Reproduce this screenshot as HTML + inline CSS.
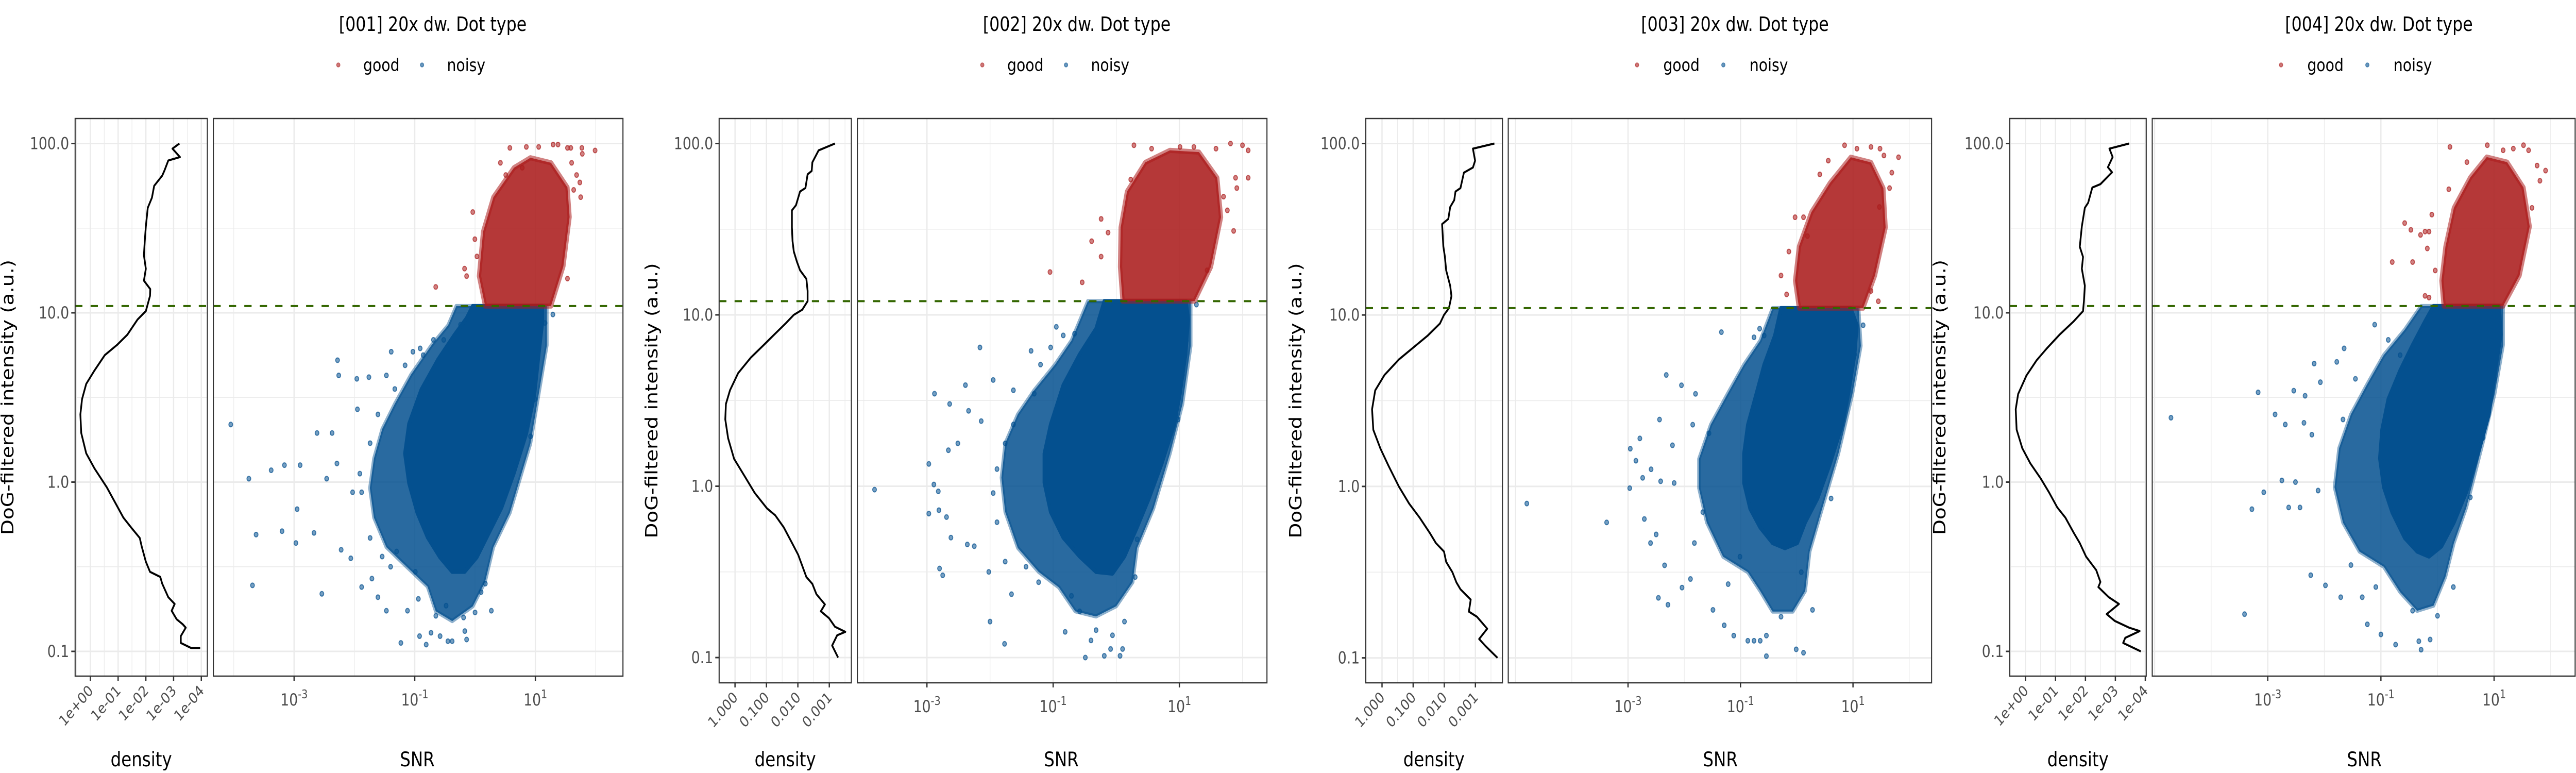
<!DOCTYPE html>
<html><head><meta charset="utf-8">
<style>
html,body{margin:0;padding:0;background:#fff;overflow:hidden;width:100%;height:100%;}
svg{display:block;width:100vw;height:100vh;font-family:"DejaVu Sans","Liberation Sans",sans-serif;}
</style></head>
<body>
<svg id="chart" viewBox="0 0 6000 1500" preserveAspectRatio="none" xmlns="http://www.w3.org/2000/svg"></svg>
<script>
// ---- Data (log10 units: [log10 SNR or density, log10 intensity]) ----
const titles = ['[001] 20x dw. Dot type','[002] 20x dw. Dot type','[003] 20x dw. Dot type','[004] 20x dw. Dot type'];
const legendLabels = ['good','noisy'];
const yTickValues = [2,1,0,-1];
const yTickLabels = ['100.0','10.0','1.0','0.1'];
const snrTickValues = [-3,-1,1];
const snrTickLabels = ['-3','-1','1'];
const densTickValuesA = [0,-1,-2,-3,-4];
const densTickLabelsA = ['1e+00','1e-01','1e-02','1e-03','1e-04'];
const densTickValuesB = [0,-1,-2,-3];
const densTickLabelsB = ['1.000','0.100','0.010','0.001'];
const thresholds = [1.04,1.08,1.04,1.04];

const p1Density=[[-3.21,2.00],[-2.96,1.97],[-3.23,1.92],[-2.81,1.90],[-2.67,1.84],[-2.59,1.81],[-2.30,1.75],[-2.22,1.68],[-2.07,1.62],[-2.00,1.51],[-1.96,1.42],[-1.93,1.34],[-2.00,1.26],[-1.93,1.19],[-2.16,1.14],[-2.15,1.10],[-2.00,1.01],[-1.70,0.96],[-1.33,0.87],[-0.96,0.81],[-0.52,0.75],[-0.15,0.66],[0.15,0.58],[0.30,0.49],[0.36,0.40],[0.33,0.29],[0.15,0.17],[-0.15,0.08],[-0.59,-0.03],[-0.89,-0.12],[-1.19,-0.21],[-1.48,-0.27],[-1.78,-0.33],[-1.85,-0.38],[-2.00,-0.47],[-2.15,-0.53],[-2.52,-0.56],[-2.59,-0.60],[-2.81,-0.68],[-3.04,-0.72],[-2.93,-0.76],[-3.11,-0.81],[-3.33,-0.84],[-3.44,-0.86],[-3.26,-0.91],[-3.26,-0.95],[-3.63,-0.98],[-3.96,-0.98]];
const p1BlueCore=[[-0.04,1.04],[1.12,1.04],[1.12,0.955],[1.055,0.751],[0.986,0.518],[0.85,0.285],[0.645,0.052],[0.44,-0.151],[0.235,-0.297],[0.031,-0.443],[-0.174,-0.53],[-0.379,-0.53],[-0.584,-0.443],[-0.788,-0.326],[-0.959,-0.181],[-1.096,-0.006],[-1.164,0.169],[-1.096,0.344],[-0.891,0.547],[-0.618,0.722],[-0.345,0.868],[-0.14,0.969]];
const p1BlueHalo=[[-0.311,1.04],[1.191,1.04],[1.191,0.809],[1.055,0.518],[0.918,0.227],[0.577,-0.181],[0.304,-0.384],[0.167,-0.588],[-0.038,-0.734],[-0.379,-0.821],[-0.652,-0.763],[-0.788,-0.617],[-1.13,-0.501],[-1.471,-0.384],[-1.676,-0.21],[-1.744,-0.035],[-1.676,0.14],[-1.539,0.314],[-1.334,0.46],[-1.061,0.635],[-0.72,0.809],[-0.447,0.926]];
const p1BlueOut=[[-4.05,0.34],[-3.75,0.02],[-3.69,-0.61],[-3.63,-0.31],[-3.38,0.07],[-3.20,-0.29],[-3.16,0.10],[-2.97,-0.36],[-2.95,-0.16],[-2.90,0.10],[-2.67,-0.30],[-2.62,0.29],[-2.54,-0.66],[-2.46,0.02],[-2.37,0.29],[-2.29,0.11],[-2.28,0.72],[-2.26,0.63],[-2.22,-0.40],[-2.06,-0.45],[-2.03,-0.06],[-1.96,0.61],[-1.95,0.43],[-1.88,-0.62],[-1.76,0.62],[-1.71,-0.57],[-1.61,-0.68],[-1.47,-0.76],[-1.47,0.63],[-1.39,0.77],[-1.30,-0.41],[-1.23,-0.95],[-1.12,-0.76],[-1.03,0.77],[-0.94,-0.69],[-0.92,-0.91],[-0.91,0.79],[-0.81,-0.96],[-0.73,-0.89],[-0.69,0.84],[-0.58,-0.91],[-0.45,-0.94],[-0.38,-0.94],[-0.19,-0.80],[-0.14,-0.93],[0.00,-0.77],[0.27,-0.76],[0.10,-0.65],[0.17,-0.60],[-0.17,-0.88],[-0.65,-0.79],[-0.48,-0.73],[-0.99,-0.53],[-1.40,-0.50],[-1.54,-0.44],[-1.74,-0.33],[-1.88,-0.06],[-1.91,0.05],[-1.74,0.23],[-1.61,0.40],[-1.33,0.55],[-1.16,0.69],[-0.86,0.75],[-0.52,0.84],[-0.24,0.93],[0.92,0.27],[0.99,0.49],[1.05,0.77],[1.16,0.94],[1.29,0.99]];
const p1RedCore=[[0.167,1.04],[1.259,1.04],[1.464,1.275],[1.567,1.566],[1.532,1.741],[1.259,1.886],[0.918,1.916],[0.645,1.857],[0.304,1.683],[0.133,1.479],[0.065,1.217]];
const p1RedOut=[[-0.652,1.153],[-0.174,1.261],[-0.14,1.217],[-0.038,1.595],[-0.003,1.435],[0.031,1.333],[0.42,1.886],[0.577,1.974],[0.85,1.98],[1.055,1.98],[1.294,1.994],[1.375,1.994],[1.532,1.974],[1.587,1.974],[1.771,1.974],[1.99,1.959],[1.778,1.939],[1.601,1.886],[1.683,1.814],[1.737,1.77],[1.751,1.683],[1.532,1.202],[0.509,1.814],[0.782,1.857],[1.635,1.726]];

const p2Density=[[-3.18,2.00],[-2.66,1.96],[-2.46,1.89],[-2.44,1.84],[-2.31,1.82],[-2.24,1.74],[-2.07,1.72],[-1.94,1.64],[-1.81,1.61],[-1.81,1.51],[-1.83,1.43],[-1.87,1.37],[-1.97,1.31],[-2.07,1.26],[-2.27,1.21],[-2.31,1.14],[-2.31,1.08],[-2.14,1.03],[-1.87,1.00],[-1.61,0.95],[-1.22,0.88],[-0.89,0.82],[-0.50,0.75],[-0.10,0.66],[0.16,0.56],[0.29,0.48],[0.31,0.39],[0.22,0.28],[0.03,0.16],[-0.30,0.06],[-0.63,-0.04],[-1.02,-0.13],[-1.28,-0.17],[-1.55,-0.24],[-1.81,-0.33],[-2.01,-0.40],[-2.27,-0.53],[-2.46,-0.57],[-2.59,-0.63],[-2.86,-0.69],[-2.73,-0.73],[-2.99,-0.77],[-3.18,-0.82],[-3.51,-0.85],[-3.25,-0.87],[-3.09,-0.93],[-3.28,-1.00]];
const p2BlueCore=[[-0.19,1.08],[1.11,1.08],[1.14,0.97],[1.10,0.77],[1.01,0.54],[0.92,0.36],[0.72,0.13],[0.52,-0.07],[0.33,-0.24],[0.13,-0.41],[-0.06,-0.51],[-0.32,-0.50],[-0.58,-0.41],[-0.84,-0.30],[-1.04,-0.15],[-1.14,0.02],[-1.14,0.19],[-1.04,0.36],[-0.84,0.59],[-0.58,0.77],[-0.32,0.92]];
const p2BlueHalo=[[-0.45,1.08],[1.18,1.08],[1.18,0.82],[1.05,0.48],[0.85,0.19],[0.59,-0.13],[0.33,-0.36],[0.26,-0.56],[0.00,-0.70],[-0.32,-0.76],[-0.65,-0.73],[-0.91,-0.59],[-1.23,-0.50],[-1.56,-0.36],[-1.76,-0.15],[-1.82,0.05],[-1.76,0.25],[-1.56,0.42],[-1.30,0.56],[-0.97,0.71],[-0.71,0.85]];
const p2BlueOut=[[-3.83,-0.02],[-2.97,0.13],[-2.97,-0.16],[-2.89,0.01],[-2.88,0.54],[-2.82,-0.03],[-2.81,-0.14],[-2.80,-0.48],[-2.75,-0.52],[-2.69,-0.18],[-2.66,0.21],[-2.64,0.48],[-2.62,-0.30],[-2.51,0.25],[-2.39,0.59],[-2.36,-0.34],[-2.34,0.44],[-2.25,-0.35],[-2.16,0.81],[-2.14,0.38],[-2.02,-0.50],[-2.00,-0.79],[-1.95,0.62],[-1.77,-0.92],[-1.66,-0.63],[-1.63,0.56],[-1.35,0.79],[-1.20,0.71],[-1.04,0.81],[-0.95,0.93],[-0.84,0.88],[-0.81,-0.85],[-0.66,0.89],[-0.49,-1.00],[-0.40,-0.90],[-0.19,-0.99],[-0.09,-0.95],[0.06,-0.99],[0.10,-0.95],[0.13,-0.79],[-0.06,-0.87],[-0.32,-0.84],[-0.58,-0.73],[-0.71,-0.64],[-1.23,-0.56],[-1.43,-0.47],[-1.76,-0.44],[-1.89,-0.21],[-1.95,-0.04],[-1.89,0.10],[-1.76,0.25],[-1.63,0.36],[-1.30,0.54],[1.05,0.65],[0.98,0.39],[0.92,0.45],[1.11,0.85],[1.12,0.95],[1.27,1.06],[0.30,-0.53],[0.33,-0.31]];
const p2RedCore=[[0.10,1.08],[1.24,1.08],[1.50,1.28],[1.66,1.57],[1.60,1.80],[1.31,1.95],[0.85,1.96],[0.46,1.89],[0.17,1.72],[0.07,1.51],[0.06,1.28]];
const p2RedOut=[[-1.05,1.25],[-0.54,1.19],[-0.39,1.43],[-0.24,1.56],[-0.24,1.34],[-0.13,1.48],[0.23,1.79],[0.28,1.99],[0.56,1.97],[1.01,1.98],[1.23,1.98],[1.58,1.97],[1.81,2.00],[2.00,1.99],[2.09,1.96],[2.09,1.80],[1.91,1.74],[1.76,1.61],[1.70,1.69],[1.89,1.80],[1.86,1.49],[1.44,1.26]];

const p3Density=[[-3.61,2.00],[-2.92,1.97],[-2.99,1.90],[-2.92,1.86],[-2.63,1.83],[-2.52,1.74],[-2.36,1.72],[-2.32,1.67],[-2.19,1.63],[-2.13,1.56],[-1.93,1.53],[-1.97,1.40],[-2.02,1.34],[-2.06,1.26],[-2.19,1.17],[-2.23,1.11],[-2.15,1.04],[-1.99,1.00],[-1.86,0.95],[-1.47,0.88],[-1.07,0.82],[-0.54,0.74],[-0.08,0.65],[0.22,0.56],[0.32,0.45],[0.28,0.33],[0.05,0.22],[-0.21,0.12],[-0.54,0.00],[-0.87,-0.10],[-1.20,-0.18],[-1.53,-0.27],[-1.73,-0.33],[-1.99,-0.38],[-2.06,-0.44],[-2.26,-0.50],[-2.39,-0.56],[-2.52,-0.60],[-2.85,-0.66],[-2.79,-0.73],[-3.05,-0.76],[-3.38,-0.83],[-3.12,-0.89],[-3.32,-0.93],[-3.71,-1.00]];
const p3BlueCore=[[-0.28,1.04],[0.96,1.04],[1.07,0.94],[1.03,0.77],[0.92,0.54],[0.81,0.36],[0.59,0.13],[0.37,-0.07],[0.15,-0.21],[0.01,-0.33],[-0.21,-0.36],[-0.43,-0.33],[-0.65,-0.24],[-0.83,-0.13],[-0.94,0.02],[-0.94,0.19],[-0.87,0.36],[-0.72,0.54],[-0.58,0.71],[-0.39,0.88]];
const p3BlueHalo=[[-0.43,1.04],[1.10,1.04],[1.14,0.82],[0.99,0.54],[0.74,0.19],[0.45,-0.13],[0.23,-0.38],[0.15,-0.61],[-0.07,-0.73],[-0.43,-0.73],[-0.65,-0.61],[-0.87,-0.50],[-1.31,-0.41],[-1.60,-0.21],[-1.74,-0.01],[-1.74,0.16],[-1.53,0.36],[-1.23,0.54],[-0.94,0.71],[-0.65,0.85]];
const p3BlueOut=[[-4.80,-0.10],[-3.38,-0.21],[-2.96,0.22],[-2.97,-0.01],[-2.86,0.15],[-2.79,0.28],[-2.74,0.05],[-2.71,-0.19],[-2.60,-0.33],[-2.59,0.10],[-2.50,-0.28],[-2.46,-0.65],[-2.44,0.39],[-2.42,0.03],[-2.35,-0.46],[-2.32,0.65],[-2.29,-0.69],[-2.21,0.24],[-2.18,0.02],[-2.05,0.59],[-2.04,-0.59],[-1.89,-0.54],[-1.85,0.36],[-1.80,0.54],[-1.49,-0.72],[-1.34,0.90],[-1.29,-0.81],[-1.22,-0.57],[-1.12,-0.87],[-1.01,-0.41],[-0.87,-0.90],[-0.76,-0.90],[-0.65,-0.90],[-0.54,-0.99],[-0.54,-0.87],[-0.28,-0.76],[-0.01,-0.95],[0.12,-0.97],[0.28,-0.72],[0.08,-0.50],[-0.66,0.92],[-0.76,0.87],[-0.58,0.88],[0.61,-0.07],[0.74,0.45],[1.03,0.77],[1.18,0.94],[-1.56,0.31],[-1.67,-0.15],[-1.82,-0.33]];
const p3RedCore=[[0.04,1.04],[1.18,1.04],[1.39,1.23],[1.58,1.51],[1.54,1.74],[1.32,1.89],[0.96,1.92],[0.59,1.77],[0.26,1.60],[0.04,1.40],[-0.03,1.20]];
const p3RedOut=[[-0.28,1.23],[-0.18,1.12],[-0.14,1.37],[-0.03,1.57],[0.12,1.57],[0.41,1.82],[0.56,1.90],[0.85,1.99],[1.07,1.97],[1.32,1.98],[1.48,1.97],[1.55,1.93],[1.81,1.92],[1.69,1.83],[1.65,1.74],[1.47,1.63],[1.45,1.08],[1.32,1.14],[0.19,1.46]];

const p4Density=[[-3.46,2.00],[-2.80,1.97],[-2.91,1.92],[-2.75,1.86],[-2.89,1.83],[-2.50,1.76],[-2.23,1.74],[-2.09,1.65],[-1.98,1.62],[-1.88,1.51],[-1.81,1.39],[-1.92,1.33],[-1.88,1.26],[-1.98,1.16],[-1.95,1.07],[-1.92,1.01],[-1.61,0.95],[-1.13,0.87],[-0.71,0.79],[-0.37,0.72],[-0.03,0.63],[0.25,0.52],[0.33,0.43],[0.30,0.31],[0.11,0.20],[-0.16,0.11],[-0.51,0.02],[-0.78,-0.06],[-1.06,-0.15],[-1.33,-0.21],[-1.61,-0.30],[-1.81,-0.36],[-2.02,-0.44],[-2.36,-0.52],[-2.50,-0.59],[-2.43,-0.62],[-2.78,-0.68],[-3.12,-0.72],[-2.71,-0.78],[-2.98,-0.82],[-3.46,-0.86],[-3.81,-0.88],[-3.33,-0.92],[-3.26,-0.95],[-3.85,-1.00]];
const p4BlueCore=[[-0.07,1.04],[1.09,1.04],[1.12,0.87],[1.01,0.63],[0.91,0.40],[0.72,0.17],[0.51,-0.06],[0.29,-0.24],[0.07,-0.38],[-0.15,-0.44],[-0.36,-0.41],[-0.58,-0.33],[-0.80,-0.18],[-0.95,-0.03],[-1.02,0.14],[-0.98,0.31],[-0.87,0.49],[-0.66,0.66],[-0.44,0.81],[-0.22,0.95]];
const p4BlueHalo=[[-0.29,1.04],[1.16,1.04],[1.16,0.81],[1.01,0.52],[0.80,0.23],[0.51,-0.15],[0.29,-0.36],[0.14,-0.56],[-0.07,-0.73],[-0.36,-0.76],[-0.66,-0.65],[-0.95,-0.50],[-1.38,-0.41],[-1.67,-0.24],[-1.82,-0.03],[-1.74,0.20],[-1.53,0.40],[-1.24,0.58],[-0.95,0.75],[-0.58,0.90]];
const p4BlueOut=[[-4.71,0.38],[-3.41,-0.78],[-3.28,-0.16],[-3.17,0.53],[-3.07,-0.06],[-2.87,0.40],[-2.75,0.01],[-2.69,0.34],[-2.63,-0.15],[-2.54,0.54],[-2.51,0.00],[-2.43,-0.15],[-2.36,0.35],[-2.34,0.51],[-2.24,-0.55],[-2.22,0.28],[-2.18,0.70],[-2.11,-0.05],[-2.07,0.59],[-1.98,-0.61],[-1.78,0.71],[-1.71,-0.68],[-1.65,0.79],[-1.53,-0.49],[-1.33,-0.68],[-1.24,-0.84],[-1.11,0.93],[-1.00,-0.90],[-0.74,-0.96],[-0.33,-0.94],[-0.29,-0.99],[-0.13,-0.93],[0.00,-0.79],[0.28,-0.62],[-0.87,0.84],[-0.66,0.75],[-1.45,0.61],[-1.67,0.37],[-1.09,-0.62],[-0.44,-0.76],[0.58,-0.09],[0.80,0.26],[1.01,0.61]];
const p4RedCore=[[0.11,1.04],[1.16,1.04],[1.45,1.22],[1.63,1.51],[1.52,1.74],[1.23,1.89],[0.87,1.92],[0.58,1.80],[0.29,1.62],[0.14,1.39],[0.07,1.19]];
const p4RedOut=[[-0.80,1.30],[-0.58,1.53],[-0.47,1.49],[-0.44,1.30],[-0.30,1.46],[-0.22,1.48],[-0.18,1.38],[-0.15,1.48],[-0.10,1.58],[-0.22,1.10],[-0.15,1.09],[0.22,1.98],[0.52,1.89],[0.88,1.99],[1.16,1.96],[1.34,1.97],[1.52,1.99],[1.61,1.96],[1.76,1.87],[1.91,1.84],[1.81,1.78],[1.67,1.62],[0.20,1.73],[-0.04,1.25]];

// ---- Layout (pixels) ----
const layouts = [
 {off:0,   dL:175,dR:483, sL:497,sR:1451, top:230,bot:1312, y100:278.5,yDec:328.5, d0:210.5,dDec:64.6, s3:685,sDec:140.5, titleX:1008, legDot:[788,983], legTxt:[846,1041], densX:329, snrX:972},
 {off:1500,dL:175,dR:483, sL:497,sR:1451, top:230,bot:1325, y100:278.5,yDec:332.5, d0:212,dDec:73.2, s3:659,sDec:147, titleX:1008, legDot:[788,983], legTxt:[846,1041], densX:329, snrX:972},
 {off:3000,dL:181,dR:499.5,sL:513,sR:1499, top:230,bot:1325, y100:278.5,yDec:332.7, d0:219,dDec:72.5, s3:792,sDec:131, titleX:1041, legDot:[813,1014], legTxt:[874,1075], densX:340, snrX:1007},
 {off:4500,dL:181,dR:499, sL:513,sR:1498, top:230,bot:1312, y100:278.5,yDec:328.5, d0:218,dDec:69.7, s3:782,sDec:131.8, titleX:1041, legDot:[813,1014], legTxt:[874,1075], densX:340, snrX:1007}
];
const densityData=[p1Density,p2Density,p3Density,p4Density];
const blueCores=[p1BlueCore,p2BlueCore,p3BlueCore,p4BlueCore];
const blueHalos=[p1BlueHalo,p2BlueHalo,p3BlueHalo,p4BlueHalo];
const blueOuts=[p1BlueOut,p2BlueOut,p3BlueOut,p4BlueOut];
const redCores=[p1RedCore,p2RedCore,p3RedCore,p4RedCore];
const redOuts=[p1RedOut,p2RedOut,p3RedOut,p4RedOut];
const densTicks=[[densTickValuesA,densTickLabelsA],[densTickValuesB,densTickLabelsB],[densTickValuesB,densTickLabelsB],[densTickValuesA,densTickLabelsA]];

const BLUE='#04508f', RED='#ab1c1c', GRID='#ebebeb';
const NS='http://www.w3.org/2000/svg';
const svg=document.getElementById('chart');
function mk(tag,attrs,parent){const e=document.createElementNS(NS,tag);for(const k in attrs)e.setAttribute(k,attrs[k]);(parent||svg).appendChild(e);return e;}

layouts.forEach((L,pi)=>{
  const g=mk('g',{transform:'translate('+L.off+',0)'});
  
  
  const Y=v=>L.y100+(2-v)*L.yDec;
  const XS=v=>L.s3+(v+3)*L.sDec;
  const XD=v=>L.d0-v*L.dDec;

  const t=mk('text',{x:L.titleX,y:60,'text-anchor':'middle','font-size':38,fill:'#000'},g);t.textContent=titles[pi];
  
  
  legendLabels.forEach((lab,i)=>{
    const c=mk('circle',{cx:L.legDot[i],cy:126,r:4,fill:i?BLUE:RED,'fill-opacity':0.6,stroke:i?BLUE:RED,'stroke-opacity':0.6,'stroke-width':1.5},g);
    
    
    const tx=mk('text',{x:L.legTxt[i],y:138,'font-size':34,fill:'#000'},g);tx.textContent=lab;
    
    
  });

  [[L.dL,L.dR,'density-panel'],[L.sL,L.sR,'scatter-panel']].forEach(([a,b,nm])=>{
    const r=mk('rect',{x:a,y:L.top,width:b-a,height:L.bot-L.top,fill:'#fff'},g);
    
    
    for(let v=2.5;v>=-1.5;v-=0.5){const y=Y(v);if(y<L.top||y>L.bot)continue;
      mk('line',{x1:a,x2:b,y1:y,y2:y,stroke:GRID,'stroke-width':Number.isInteger(v)?3:1.5},g);}
  });
  for(let v=-6;v<=3;v+=1){const x=XS(v);if(x<L.sL||x>L.sR)continue;
    mk('line',{x1:x,x2:x,y1:L.top,y2:L.bot,stroke:GRID,'stroke-width':(v%2!==0)?3:1.5},g);}
  for(let v=1;v>=-5;v-=0.5){const x=XD(v);if(x<L.dL||x>L.dR)continue;
    mk('line',{x1:x,x2:x,y1:L.top,y2:L.bot,stroke:GRID,'stroke-width':Number.isInteger(v)?3:1.5},g);}

  const clip='clip'+pi;
  const cp=mk('clipPath',{id:clip},g);mk('rect',{x:L.sL,y:L.top,width:L.sR-L.sL,height:L.bot-L.top},cp);
  const sg=mk('g',{'clip-path':'url(#'+clip+')'},g);
  const poly=(pts)=>pts.map(p=>XS(p[0]).toFixed(1)+','+Y(p[1]).toFixed(1)).join(' ');
  const halo=mk('polygon',{points:poly(blueHalos[pi]),fill:BLUE,'fill-opacity':0.85,stroke:BLUE,'stroke-opacity':0.45,'stroke-width':8,'stroke-linejoin':'round'},sg);
  
  
  blueOuts[pi].forEach(p=>{const c=mk('circle',{cx:XS(p[0]),cy:Y(p[1]),r:4.5,fill:BLUE,'fill-opacity':0.55,stroke:BLUE,'stroke-opacity':0.7,'stroke-width':2},sg);
    
    });
  const core=mk('polygon',{points:poly(blueCores[pi]),fill:BLUE,stroke:BLUE,'stroke-width':8,'stroke-linejoin':'round'},sg);
  
  
  const rc=mk('polygon',{points:poly(redCores[pi]),fill:RED,'fill-opacity':0.88,stroke:RED,'stroke-opacity':0.55,'stroke-width':10,'stroke-linejoin':'round'},sg);
  
  
  redOuts[pi].forEach(p=>{const c=mk('circle',{cx:XS(p[0]),cy:Y(p[1]),r:4.5,fill:RED,'fill-opacity':0.55,stroke:RED,'stroke-opacity':0.7,'stroke-width':2},sg);
    
    });

  const dp=mk('polyline',{points:densityData[pi].map(p=>XD(p[0]).toFixed(1)+','+Y(p[1]).toFixed(1)).join(' '),fill:'none',stroke:'#000','stroke-width':4,'stroke-linejoin':'round'},g);
  
  

  const ty=Y(thresholds[pi]);
  [[L.dL,L.dR],[L.sL,L.sR]].forEach(([a,b])=>{
    const l=mk('line',{x1:a,x2:b,y1:ty,y2:ty,stroke:'#336600','stroke-width':4,'stroke-dasharray':'17 19'},g);
    
    
  });

  [[L.dL,L.dR],[L.sL,L.sR]].forEach(([a,b])=>{
    const r=mk('rect',{x:a,y:L.top,width:b-a,height:L.bot-L.top,fill:'none',stroke:'#333','stroke-width':2.5},g);
    
    
  });

  yTickValues.forEach((v,i)=>{const y=Y(v);
    mk('line',{x1:L.dL-9,x2:L.dL,y1:y,y2:y,stroke:'#333','stroke-width':3},g);
    const tx=mk('text',{x:L.dL-14,y:y+11,'text-anchor':'end','font-size':32,fill:'#4d4d4d'},g);tx.textContent=yTickLabels[i];
    
    });
  snrTickValues.forEach((v,i)=>{const x=XS(v);
    mk('line',{x1:x,x2:x,y1:L.bot,y2:L.bot+9,stroke:'#333','stroke-width':3},g);
    const tx=mk('text',{x:x,y:L.bot+57,'text-anchor':'middle','font-size':32,fill:'#4d4d4d'},g);
    
    
    const a=mk('tspan',{},tx);a.textContent='10';
    const b=mk('tspan',{dy:-14,'font-size':23},tx);b.textContent=snrTickLabels[i];});
  const [dv,dl]=densTicks[pi];
  dv.forEach((v,i)=>{const x=XD(v);
    mk('line',{x1:x,x2:x,y1:L.bot,y2:L.bot+9,stroke:'#333','stroke-width':3},g);
    const tx=mk('text',{x:x+8,y:L.bot+30,'text-anchor':'end','font-size':29,fill:'#4d4d4d',transform:'rotate(-45 '+(x+8)+' '+(L.bot+30)+')'},g);tx.textContent=dl[i];
    
    });

  const yt=mk('text',{x:0,y:0,'text-anchor':'middle','font-size':39,fill:'#000',transform:'translate(31,'+((L.top+L.bot)/2)+') rotate(-90)'},g);yt.textContent='DoG-filtered intensity (a.u.)';
  
  
  const dt=mk('text',{x:L.densX,y:1487,'text-anchor':'middle','font-size':39,fill:'#000'},g);dt.textContent='density';
  
  
  const st=mk('text',{x:L.snrX,y:1487,'text-anchor':'middle','font-size':39,fill:'#000'},g);st.textContent='SNR';
  
  
});
</script>
</body></html>
